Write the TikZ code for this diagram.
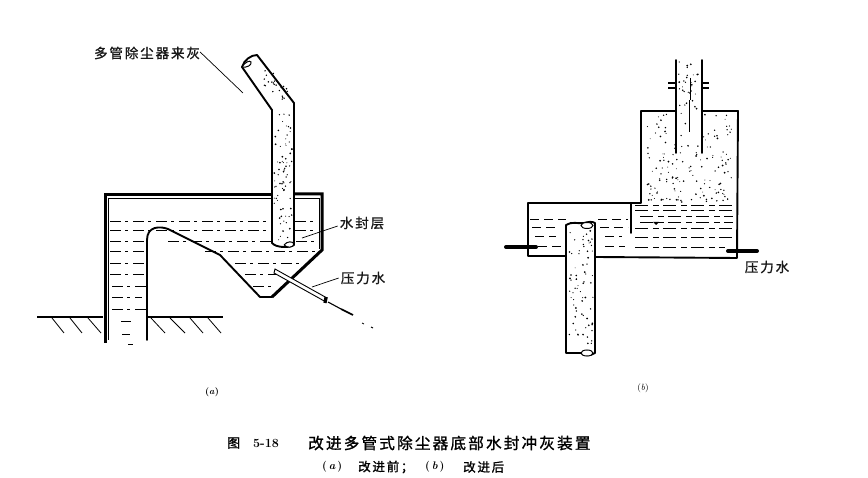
\documentclass[tikz,border=0pt]{standalone}
\usepackage{fontspec}
\newfontfamily\cjk[LetterSpace=14,FakeBold=1.2]{Noto Sans CJK SC}
\usetikzlibrary{calc}
\tikzset{
  x=1pt,y=-1pt,
  thickwall/.style={line width=3pt,line join=miter,line cap=butt},
  wall/.style={line width=1.9pt,line join=round,line cap=round},
  thinline/.style={line width=1.1pt,line cap=round},
  leader/.style={line width=.7pt},
  wdash/.style={line width=.9pt,dash pattern=on 11pt off 4pt on 3pt off 5pt},
  lab/.style={font=\cjk\fontsize{13.5}{16}\selectfont,inner sep=0pt,text=black!90},
  dot/.style={fill=black,draw=none},
}
\newcommand{\speck}[5]{% x0 x1 y0 y1 count
  \foreach \i in {1,...,#5}{
    \pgfmathsetmacro{\px}{#1+rnd*(#2-#1)}
    \pgfmathsetmacro{\py}{#3+rnd*(#4-#3)}
    \pgfmathsetmacro{\pr}{.45+.55*rnd}
    \fill[dot] (\px,\py) circle[radius=\pr pt];
  }}
\begin{document}
\begin{tikzpicture}
\pgfmathsetseed{5318}
\useasboundingbox (0,0) rectangle (868,478);
\fill[white] (0,0) rectangle (868,478);
% ---------- panel a
% tank
\draw[thickwall] (105,343) -- (105,195) -- (272,195);
\draw[thickwall] (294,194) -- (322,194) -- (322,250) -- (272,297);
\draw[wall] (272,297) -- (260,297) -- (220,255) -- (168,229)
  .. controls (160,226) and (147,226) .. (147,240) -- (147,340);
\draw[line width=.8pt] (108,198) -- (108,340);
\draw[line width=.8pt] (108,198) -- (319,198) -- (319,249);
% water
\foreach \yy/\xa/\xb in {221/110/272,230/110/272,241/110/146,251/110/146,263/110/146,274/110/146,286/112/146,297/112/142,309/112/146}
  \draw[wdash] (\xa,\yy) -- (\xb,\yy);
\foreach \yy/\xa/\xb in {221/295/317,230/295/317,241/168/272,241/296/316,251/205/315,263/235/300,274/245/280,286/253/272}
  \draw[wdash] (\xa,\yy) -- (\xb,\yy);
\foreach \yy/\xa/\xb in {322/121/131,335/122/130,345/128/133}
  \draw[line width=1pt] (\xa,\yy) -- (\xb,\yy);
% ground
\draw[line width=1.5pt] (37,317) -- (103,317) (147,317) -- (223,317);
\foreach \ax/\bx in {52/64,70/82,88/101,151/165,170/185,190/203,208/221}
  \draw[line width=.8pt] (\ax,318) -- (\bx,333);
% dust pipe a
\draw[wall,fill=white] (242,67) .. controls (244,60) and (251,55) .. (257,55) -- (294,103) -- (294,245)
  .. controls (290,248) and (276,248) .. (272,243) -- (272,110) -- cycle;
\draw[line width=1pt,fill=white] (242,67) .. controls (245,62) and (250,60) .. (251,62) .. controls (252,65) and (247,68) .. (242,67);
\draw[line width=1pt,fill=white] (284,245) .. controls (287,241) and (293,241) .. (294,244) .. controls (293,248) and (287,248) .. (284,245);
\speck{274}{292}{105}{240}{75}
\foreach \i in {1,...,26}{
  \pgfmathsetmacro{\t}{rnd}
  \pgfmathsetmacro{\s}{rnd}
  \fill[dot] ({250+\t*26+\s*15},{67+\t*36-\s*8}) circle[radius=.8pt];
}
% pressure water pipe a
\draw[line width=.9pt,fill=white] (275,269) -- (327,298) -- (326,302) -- (274,273) -- cycle;
\draw[line width=3.2pt] (326,297) -- (325,303);
\draw[line width=1.1pt] (328,302) -- (341,309);
\draw[line width=1.6pt] (341,309) -- (353,315);
\draw[line width=.7pt] (362,323) -- (364,324);
\draw[line width=.9pt] (371,327) -- (373,328);
% labels a
\node[lab] (ash) at (147,53) {多管除尘器来灰};
\node[lab] (seal) at (362,223) {水封层};
\node[lab] (pwa) at (363,278) {压力水};
\coordinate (ashEnd) at (243,93);
\coordinate (sealEnd) at (302,238);
\coordinate (pwaEnd) at (312,287);
\draw[leader] (ash.east) ++(0,-1) -- (ashEnd);
\draw[leader] (seal.west) ++(-2,3) -- (sealEnd);
\draw[leader] (pwa.west) ++(-2,0) -- (pwaEnd);
\node[inner sep=0pt,font=\bfseries\small] (capa) at (212,392) {(\textit{a})};
% ---------- panel b
\draw[wall] (676,111) -- (641,111) -- (641,203) -- (528,203) -- (528,256) -- (566,256);
\draw[wall] (702,111) -- (738,111) -- (737,258) -- (596,257);
\draw[wall] (631,203) -- (631,233);
% dust b
\speck{644}{675}{114}{200}{55}
\speck{703}{735}{114}{200}{55}
\speck{675}{703}{150}{200}{26}
\speck{678}{700}{60}{150}{38}
\foreach \i in {1,...,14}{
  \pgfmathsetmacro{\px}{645+rnd*88}
  \fill[dot] (\px,{199+rnd*4}) circle[radius=.8pt];
}
% water b
\foreach \yy/\xa/\xb in {205/635/733,210/635/733,216/640/733,222/640/733,228/635/733,237/635/733,247/635/725}
  \draw[line width=.8pt,dash pattern=on 13pt off 5pt on 6pt off 4pt] (\xa,\yy) -- (\xb,\yy);
\foreach \yy/\xa/\xb in {219/530/566,219/598/628,227/532/555,227/600/628,236/535/556,236/605/622,246/538/565,246/605/625}
  \draw[line width=.8pt,dash pattern=on 9pt off 5pt] (\xa,\yy) -- (\xb,\yy);
\fill (653,222) -- (659,222) -- (656,225) -- cycle;
% upper pipe b
\draw[wall] (676,60) -- (676,153) (702,60) -- (702,153);
\draw[line width=1.6pt] (668,83) -- (676,83) (668,88) -- (676,88) (702,83) -- (709,83) (702,88) -- (709,88);
\draw[line width=.7pt] (690,78) -- (690,100);
\draw[line width=1.6pt] (689.5,100) -- (689.5,132);
% lower pipe b
\draw[wall,fill=white] (566,353) -- (566,225) .. controls (572,221) and (578,224) .. (584,223) .. controls (588,222) and (592,221) .. (595,223) -- (595,353) .. controls (590,356) and (585,356) .. (581,353) -- cycle;
\draw[line width=1pt,fill=white] (587,225.5) ellipse[x radius=6pt,y radius=3pt];
\draw[line width=1pt,fill=white] (587,353) ellipse[x radius=6pt,y radius=3pt];
\speck{569}{593}{230}{349}{70}
% nozzles b
\draw[line width=4pt,line cap=round] (506,247) -- (536,247);
\draw[line width=4pt,line cap=round] (728,251) -- (757,251);
% labels b
\node[lab] (pwb) at (767,267) {压力水};
\node[inner sep=0pt,font=\small] (capb) at (643,388) {(\textit{b})};
% ---------- caption
\node[inner sep=0pt,anchor=west,font=\cjk\fontsize{13}{16}\selectfont] (fig) at (227,443) {图};
\node[inner sep=0pt,anchor=west,font=\bfseries\fontsize{12.5}{15}\selectfont] (num) at (253,443) {5-18};
\node[inner sep=0pt,anchor=west,font=\cjk\fontsize{15.6}{16}\selectfont] (title) at (308,443) {改进多管式除尘器底部水封冲灰装置};
\node[inner sep=0pt,anchor=west,font=\bfseries\fontsize{11}{14}\selectfont] (sa) at (322,467) {(\,\textit{a}\,)};
\node[inner sep=0pt,anchor=west,font=\cjk\fontsize{12.5}{14}\selectfont] (sb) at (358,467) {改进前；};
\node[inner sep=0pt,anchor=west,font=\bfseries\fontsize{11}{14}\selectfont] (sc) at (425,467) {(\,\textit{b}\,)};
\node[inner sep=0pt,anchor=west,font=\cjk\fontsize{12.5}{14}\selectfont] (sd) at (463,467) {改进后};
\end{tikzpicture}
\end{document}
